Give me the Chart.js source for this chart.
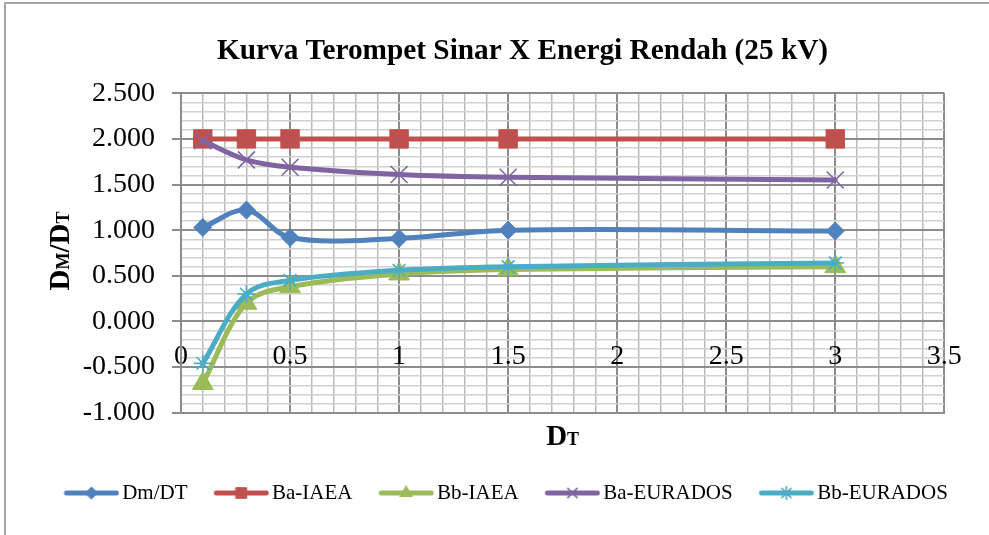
<!DOCTYPE html>
<html>
<head>
<meta charset="utf-8">
<script src="https://cdn.jsdelivr.net/npm/chart.js@4.4.1/dist/chart.umd.min.js"></script>
<style>
html,body{margin:0;padding:0;background:#ffffff;}
canvas{display:block;}
</style>
</head>
<body>
<canvas id="chart" width="989" height="535"></canvas>
<script>
// ---- data ----
const chartTitle = 'Kurva Terompet Sinar X Energi Rendah (25 kV)';
const seriesNames = ['Dm/DT', 'Ba-IAEA', 'Bb-IAEA', 'Ba-EURADOS', 'Bb-EURADOS'];
const dtValues   = [0.1, 0.3, 0.5, 1, 1.5, 3];
const dmDt       = [1.03, 1.22, 0.92, 0.91, 1.00, 0.99];
const baIAEA     = [2.00, 2.00, 2.00, 2.00, 2.00, 2.00];
const bbIAEA     = [-0.68, 0.20, 0.38, 0.52, 0.57, 0.60];
const baEURADOS  = [1.98, 1.77, 1.69, 1.61, 1.58, 1.55];
const bbEURADOS  = [-0.46, 0.30, 0.45, 0.56, 0.60, 0.64];
const xAxisRange = [0, 3.5];
const yAxisRange = [-1, 2.5];
const yTitleParts = [['D', 29], ['M', 18], ['/', 29], ['D', 29], ['T', 18]];
const xTitleParts = [['D', 29], ['T', 18]];

// ---- styles ----
const seriesValues = [dmDt, baIAEA, bbIAEA, baEURADOS, bbEURADOS];
const seriesColors = ['#4F81BD', '#C0504D', '#9BBB59', '#8064A2', '#4BACC6'];
const markerStyles = ['rectRot', 'rect', 'triangle', 'crossRot', 'star'];
const markerRadii  = [9, 13, 12, 12, 9];
const markerBorder = [1, 1, 1, 1.6, 1.6];
const legendRadii  = [6, 7.5, 7, 6.5, 6.5];
const serif = 'Liberation Serif';
const majorGrid = '#8c8c8c';

function isMajor(v) { return Math.abs(v * 2 - Math.round(v * 2)) < 1e-6; }

// legend symbols: line with the marker in the middle
function makeLegendImage(i) {
  const cv = document.createElement('canvas');
  cv.width = 86; cv.height = 24;
  const g = cv.getContext('2d');
  g.strokeStyle = seriesColors[i];
  g.fillStyle = seriesColors[i];
  g.lineWidth = 5; g.lineCap = 'round';
  g.beginPath(); g.moveTo(33, 12); g.lineTo(83, 12); g.stroke();
  g.lineWidth = markerBorder[i];
  if (Chart.helpers && Chart.helpers.drawPoint) {
    Chart.helpers.drawPoint(g, {pointStyle: markerStyles[i], radius: legendRadii[i], rotation: 0, borderWidth: markerBorder[i]}, 58, 12);
  }
  return cv;
}
const legendImages = seriesNames.map((n, i) => makeLegendImage(i));

const datasets = seriesNames.map((name, i) => ({
  label: name,
  data: dtValues.map((x, j) => ({x: x, y: seriesValues[i][j]})),
  borderColor: seriesColors[i],
  backgroundColor: seriesColors[i],
  borderWidth: 5,
  borderCapStyle: 'round',
  borderJoinStyle: 'round',
  tension: 0.35,
  fill: false,
  pointStyle: markerStyles[i],
  pointRadius: markerRadii[i],
  pointHoverRadius: markerRadii[i],
  pointBackgroundColor: seriesColors[i],
  pointBorderColor: seriesColors[i],
  pointBorderWidth: markerBorder[i],
  order: seriesNames.length - i
}));

function drawMixed(ctx, parts, cx, baseline) {
  let total = 0;
  const widths = parts.map(([t, s]) => {
    ctx.font = 'bold ' + s + 'px "' + serif + '"';
    const w = ctx.measureText(t).width; total += w; return w;
  });
  let x = cx - total / 2;
  ctx.textAlign = 'left';
  ctx.textBaseline = 'alphabetic';
  parts.forEach(([t, s], k) => {
    ctx.font = 'bold ' + s + 'px "' + serif + '"';
    ctx.fillText(t, x, baseline);
    x += widths[k];
  });
}

const decor = {
  id: 'decor',
  beforeDraw(chart) {
    const ctx = chart.ctx;
    ctx.save();
    ctx.fillStyle = '#ffffff';
    ctx.fillRect(0, 0, chart.width, chart.height);
    ctx.strokeStyle = '#a6a6a6';
    ctx.lineWidth = 2;
    ctx.beginPath();
    ctx.moveTo(5, chart.height); ctx.lineTo(5, 3); ctx.lineTo(chart.width, 3);
    ctx.stroke();
    ctx.restore();
  },
  afterDraw(chart) {
    const ctx = chart.ctx;
    const ca = chart.chartArea;
    ctx.save();
    ctx.fillStyle = '#000000';
    // main title
    ctx.font = 'bold 29.3px "' + serif + '"';
    ctx.textAlign = 'center';
    ctx.textBaseline = 'alphabetic';
    ctx.fillText(chartTitle, 522.5, 59);
    // x axis title
    drawMixed(ctx, xTitleParts, (ca.left + ca.right) / 2, ca.bottom + 32.3);
    // y axis title
    ctx.translate(ca.left - 112, (ca.top + ca.bottom) / 2 - 2);
    ctx.rotate(-Math.PI / 2);
    drawMixed(ctx, yTitleParts, 0, 0);
    ctx.restore();
  }
};

new Chart(document.getElementById('chart'), {
  type: 'line',
  data: {datasets: datasets},
  plugins: [decor],
  options: {
    responsive: false,
    animation: false,
    devicePixelRatio: 1,
    events: [],
    layout: {padding: {left: 0, right: 0, top: 93.3, bottom: 21.5}},
    scales: {
      x: {
        type: 'linear', position: 'bottom',
        min: xAxisRange[0], max: xAxisRange[1],
        ticks: {
          stepSize: 0.1, autoSkip: false, maxRotation: 0, minRotation: 0,
          mirror: true, padding: 39.2, color: '#000000',
          font: {family: serif, size: 28},
          callback: v => isMajor(v) ? String(+v.toFixed(1)) : ''
        },
        grid: {
          drawTicks: false,
          color: c => isMajor(c.tick.value) ? majorGrid : '#b9b9b9',
          lineWidth: c => isMajor(c.tick.value) ? 2 : 1.5
        },
        border: {display: true, color: majorGrid, width: 2},
        afterFit: s => { s.height = 66.3; s.paddingLeft = 0; s.paddingRight = 0; }
      },
      y: {
        type: 'linear', position: 'left',
        min: yAxisRange[0], max: yAxisRange[1],
        ticks: {
          stepSize: 0.1, autoSkip: false, padding: 17, color: '#000000',
          font: {family: serif, size: 28},
          callback: v => isMajor(v) ? v.toFixed(3) : ''
        },
        grid: {
          drawTicks: true, tickLength: 9, tickWidth: 2,
          tickColor: c => isMajor(c.tick.value) ? majorGrid : 'rgba(0,0,0,0)',
          color: c => isMajor(c.tick.value) ? majorGrid : '#d0d0d0',
          lineWidth: c => isMajor(c.tick.value) ? 2 : 1.5
        },
        border: {display: true, color: majorGrid, width: 2},
        afterFit: s => { s.width = 181; }
      },
      yRight: {
        type: 'linear', position: 'right', display: true,
        grid: {display: false}, border: {display: false}, ticks: {display: false},
        afterFit: s => { s.width = 44.7; }
      }
    },
    plugins: {
      title: {display: false},
      tooltip: {enabled: false},
      legend: {
        display: true, position: 'bottom',
        labels: {
          usePointStyle: true,
          pointStyleWidth: 70.5,
          padding: 3.5,
          color: '#000000',
          font: {family: serif, size: 21},
          generateLabels(chart) {
            const items = Chart.defaults.plugins.legend.labels.generateLabels(chart);
            items.sort((a, b) => a.datasetIndex - b.datasetIndex);
            items.forEach(it => { it.pointStyle = legendImages[it.datasetIndex]; });
            return items;
          }
        }
      }
    }
  }
});
</script>
</body>
</html>
